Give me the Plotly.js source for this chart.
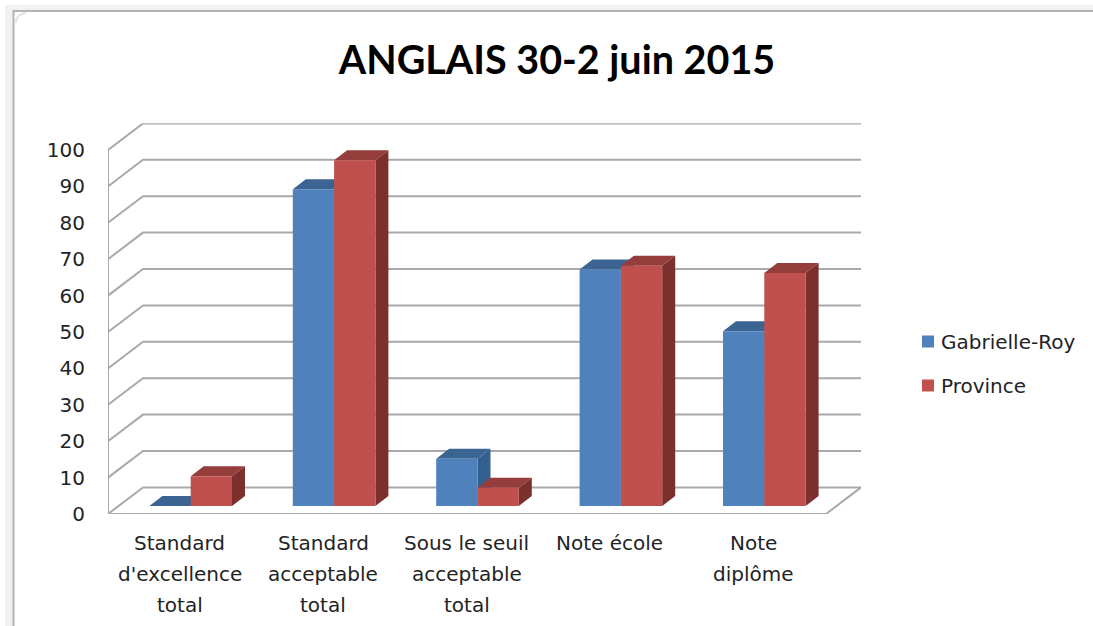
<!DOCTYPE html>
<html>
<head>
<meta charset="utf-8">
<script src="https://cdn.plot.ly/plotly-3.0.1.min.js"></script>
<style>html,body{margin:0;padding:0;background:#fff;overflow:hidden}#chart{width:1093px;height:626px}</style>
</head>
<body>
<div id="chart"></div>
<script>
// ---- data ----
const categories = ["Standard<br>d'excellence<br>total", "Standard<br>acceptable<br>total", "Sous le seuil<br>acceptable<br>total", "Note école", "Note<br>diplôme"];
const gabrielleRoy = [0, 87, 13, 65, 48];
const province = [8.2, 95, 5, 66, 64];
const valueTicks = [0, 10, 20, 30, 40, 50, 60, 70, 80, 90, 100];
const titleText = "ANGLAIS 30-2 juin 2015";

// ---- page geometry (px) ----
const W = 1093, H = 626;
const px = { left: 108, right: 861, floor: 514, top: 123.3 };
const pxPerCat = 143.4, pxPerVal = 3.64, firstCatPx = 179.7;
const wall = { dx: 35 / pxPerCat, dv: 26.6 / pxPerVal };     // depth of the box
const barDepth = { dx: 13 / pxPerCat, dv: 10 / pxPerVal };   // depth of one bar
const barOffset = { dx: 11 / pxPerCat, dv: 8 / pxPerVal };   // bars stand inside the floor
const barW = 41.3 / pxPerCat;
const xRange = [(px.left - firstCatPx) / pxPerCat, (px.right - firstCatPx) / pxPerCat];
const yTop = (px.floor - px.top) / pxPerVal;
const fx = v => v / W, fy = v => 1 - v / H;

const colors = {
  blue: { front: '#4F81BD', top: '#3B6493', side: '#34608F' },
  red: { front: '#C0504D', top: '#943D3B', side: '#7C302E' }
};
const gridColor = '#A9A9A9';
const textColor = '#1F2326';

// ---- box lines: one path per tick value ----
const gridX = [], gridY = [];
const x0 = xRange[0];
valueTicks.forEach(v => {
  gridX.push(x0, x0 + wall.dx, xRange[1], null);
  gridY.push(v, v + wall.dv, v + wall.dv, null);
});
gridX.push(x0, x0, null, x0, xRange[0] + 718 / pxPerCat, xRange[1], null);
gridY.push(0, 100, null, 0, 0, wall.dv, null);
const gridTrace = { type: 'scatter', mode: 'lines', x: gridX, y: gridY, line: { color: gridColor, width: 2 },
  hoverinfo: 'skip', showlegend: false, cliponaxis: false };

// ---- bar side and top faces, from the same values ----
function faces(values, off, kind) {
  const xs = [], ys = [];
  values.forEach((v, i) => {
    const a = i + barOffset.dx + off, b = a + barW;
    const top = v + barOffset.dv, base = barOffset.dv;
    if (kind === 'side') {
      xs.push(b, b + barDepth.dx, b + barDepth.dx, b, b, null);
      ys.push(top, top + barDepth.dv, base + barDepth.dv, base, top, null);
    } else {
      xs.push(a, a + barDepth.dx, b + barDepth.dx, b, a, null);
      ys.push(top, top + barDepth.dv, top + barDepth.dv, top, top, null);
    }
  });
  return { type: 'scatter', mode: 'lines', x: xs, y: ys, fill: 'toself', hoverinfo: 'skip', showlegend: false,
    line: { width: 0 } };
}
function faceTraces(values, off, c) {
  const s = faces(values, off, 'side'); s.fillcolor = c.side; s.line.color = c.side;
  const t = faces(values, off, 'top'); t.fillcolor = c.top; t.line.color = c.top;
  return [s, t];
}

const barX = categories.map((_, i) => i + barOffset.dx);
function bars(name, values, off, color) {
  return { type: 'bar', name: name, legendgroup: name, x: barX, y: values, yaxis: 'y2', width: barW, offset: off,
    marker: { color: color, line: { width: 0 } } };
}

const traces = [gridTrace]
  .concat(faceTraces(gabrielleRoy, -barW, colors.blue))
  .concat(faceTraces(province, 0, colors.red))
  .concat([bars('Gabrielle-Roy', gabrielleRoy, -barW, colors.blue.front),
           bars('Province', province, 0, colors.red.front)]);

// ---- category labels, one annotation per line ----
const lineY = [543, 574, 605];
const annotations = [];
categories.forEach((c, i) => c.split('<br>').forEach((t, j) => annotations.push({
  text: t, x: i, xref: 'x', y: fy(lineY[j]), yref: 'paper', xanchor: 'center', yanchor: 'middle', showarrow: false,
  font: { family: 'DejaVu Sans', size: 20, color: textColor }
})));

// ---- window frame of the screenshot ----
const shapes = [
  { type: 'rect', xref: 'paper', yref: 'paper', x0: fx(5), x1: fx(13), y0: fy(5), y1: 0, fillcolor: '#F1F1F1', line: { width: 0 }, layer: 'below' },
  { type: 'rect', xref: 'paper', yref: 'paper', x0: fx(5), x1: 1, y0: fy(5), y1: fy(10), fillcolor: '#F1F1F1', line: { width: 0 }, layer: 'below' },
  { type: 'line', xref: 'paper', yref: 'paper', x0: fx(13.5), x1: fx(13.5), y0: fy(10.5), y1: 0, line: { color: '#B4B4B4', width: 2 }, layer: 'below' },
  { type: 'line', xref: 'paper', yref: 'paper', x0: fx(13), x1: 1, y0: fy(11), y1: fy(11), line: { color: '#B4B4B4', width: 2 }, layer: 'below' },
  { type: 'path', xref: 'paper', yref: 'paper', layer: 'below', line: { color: '#E4E4E4', width: 2 },
    path: `M ${fx(16)} ${fy(23)} Q ${fx(16)} ${fy(14)} ${fx(26)} ${fy(13)}` }
];

const layout = {
  width: W, height: H, autosize: false,
  margin: { l: 0, r: 0, t: 0, b: 0, pad: 0 },
  paper_bgcolor: '#fff', plot_bgcolor: 'rgba(0,0,0,0)',
  title: { text: titleText, x: 557 / W, xref: 'paper', xanchor: 'center', y: fy(60), yref: 'paper', yanchor: 'middle',
    font: { family: 'Lato', size: 39.5, weight: 700, color: '#000' } },
  xaxis: { domain: [fx(px.left), fx(px.right)], range: xRange, showgrid: false, zeroline: false, showline: false,
    showticklabels: false, ticks: '', fixedrange: true },
  yaxis: { domain: [fy(px.floor), fy(px.top)], range: [0, yTop], tickmode: 'array', tickvals: valueTicks, ticktext: valueTicks.map(String),
    showgrid: false, zeroline: false, showline: false, ticks: 'outside', ticklen: 18, tickcolor: 'rgba(0,0,0,0)',
    tickfont: { family: 'DejaVu Sans', size: 20, color: textColor }, fixedrange: true },
  yaxis2: { overlaying: 'y', range: [-barOffset.dv, yTop - barOffset.dv], visible: false, fixedrange: true },
  barmode: 'overlay',
  showlegend: true,
  legend: { x: 901 / W, xanchor: 'left', y: fy(322), yanchor: 'top', bgcolor: 'rgba(0,0,0,0)', tracegroupgap: 15,
    traceorder: 'grouped', font: { family: 'DejaVu Sans', size: 20, color: textColor } },
  annotations: annotations,
  shapes: shapes
};

Plotly.newPlot('chart', traces, layout, { displayModeBar: false, staticPlot: true }).then(() => {
  // legend swatches sit closer to their labels than the library's default gap
  document.querySelectorAll('#chart .legendsymbols').forEach(g => g.setAttribute('transform', 'translate(7,0)'));
});
</script>
</body>
</html>
